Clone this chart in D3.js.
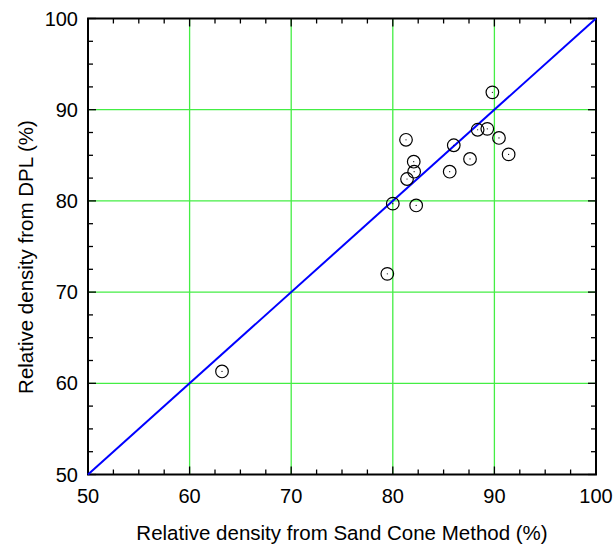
<!DOCTYPE html>
<html>
<head>
<meta charset="utf-8">
<script src="https://cdn.jsdelivr.net/npm/d3@7"></script>
<style>
  body { margin: 0; background: #fff; }
  text { font-family: "Liberation Sans", Arial, sans-serif; fill: #000; }
</style>
</head>
<body>
<div id="chart"></div>
<script>
// measured points (sand cone vs DPL)
const sandCone = [89.8, 81.3, 86.0, 88.35, 89.3, 90.45, 91.4, 87.6, 82.06, 82.1, 81.4, 85.6, 80.0, 82.3, 79.46, 63.19];
const dpl      = [91.9, 86.7, 86.1, 87.8, 87.9, 86.9, 85.1, 84.6, 84.3, 83.2, 82.4, 83.2, 79.7, 79.5, 72.0, 61.3];
const majorTicks = [50, 60, 70, 80, 90, 100];
const minorTicks = d3.range(50, 100.01, 2.5);
const lineOfEquality = [50, 100];

let width = 616, height = 547;
let margin = {top: 18.5, left: 88, right: 20, bottom: 72.5};

let svg = d3.select("#chart")
    .append("svg")
    .attr("width", width)
    .attr("height", height);

let x = d3.scaleLinear().domain([50, 100]).range([margin.left, width - margin.right]);
let y = d3.scaleLinear().domain([50, 100]).range([height - margin.bottom, margin.top]);

// grid
svg.append("g").selectAll("line")
    .data(majorTicks.slice(1, -1))
    .enter().append("line")
    .attr("x1", d => x(d)).attr("x2", d => x(d))
    .attr("y1", y(50)).attr("y2", y(100))
    .attr("stroke", "#44ee44").attr("stroke-width", 1.3);
svg.append("g").selectAll("line")
    .data(majorTicks.slice(1, -1))
    .enter().append("line")
    .attr("y1", d => y(d)).attr("y2", d => y(d))
    .attr("x1", x(50)).attr("x2", x(100))
    .attr("stroke", "#44ee44").attr("stroke-width", 1.3);

// inward ticks on all four sides
let tickLen = d => (d % 10 === 0 ? 8 : 5);
let ticks = svg.append("g").attr("stroke", "#000").attr("stroke-width", 1.3);
minorTicks.forEach(d => {
    let l = tickLen(d);
    ticks.append("line").attr("x1", x(d)).attr("x2", x(d)).attr("y1", y(50)).attr("y2", y(50) - l);
    ticks.append("line").attr("x1", x(d)).attr("x2", x(d)).attr("y1", y(100)).attr("y2", y(100) + l);
    ticks.append("line").attr("y1", y(d)).attr("y2", y(d)).attr("x1", x(50)).attr("x2", x(50) + l);
    ticks.append("line").attr("y1", y(d)).attr("y2", y(d)).attr("x1", x(100)).attr("x2", x(100) - l);
});

// frame
svg.append("rect")
    .attr("x", x(50)).attr("y", y(100))
    .attr("width", x(100) - x(50)).attr("height", y(50) - y(100))
    .attr("fill", "none").attr("stroke", "#000").attr("stroke-width", 2);

// tick labels
svg.append("g").selectAll("text")
    .data(majorTicks)
    .enter().append("text")
    .attr("x", d => x(d)).attr("y", y(50) + 28.5)
    .attr("text-anchor", "middle")
    .style("font-size", "20px")
    .text(d => d);
svg.append("g").selectAll("text")
    .data(majorTicks)
    .enter().append("text")
    .attr("x", x(50) - 10).attr("y", d => y(d) + 7)
    .attr("text-anchor", "end")
    .style("font-size", "20px")
    .text(d => d);

// 1:1 line
svg.append("line")
    .attr("x1", x(lineOfEquality[0])).attr("y1", y(lineOfEquality[0]))
    .attr("x2", x(lineOfEquality[1])).attr("y2", y(lineOfEquality[1]))
    .attr("stroke", "#0000ff").attr("stroke-width", 2);

// points
let pts = svg.append("g").selectAll("g")
    .data(sandCone.map((v, i) => ({sc: v, dpl: dpl[i]})))
    .enter().append("g")
    .attr("transform", d => "translate(" + x(d.sc) + "," + y(d.dpl) + ")");
pts.append("circle").attr("r", 6.3).attr("fill", "none").attr("stroke", "#000").attr("stroke-width", 1.2);
pts.append("circle").attr("r", 0.6).attr("fill", "#000");

// axis titles
svg.append("text")
    .attr("x", (x(50) + x(100)) / 2).attr("y", 540)
    .attr("text-anchor", "middle")
    .style("font-size", "20.5px")
    .text("Relative density from Sand Cone Method (%)");
svg.append("text")
    .attr("transform", "translate(33,257) rotate(-90)")
    .attr("text-anchor", "middle")
    .style("font-size", "20.5px")
    .text("Relative density from DPL (%)");
</script>
</body>
</html>
